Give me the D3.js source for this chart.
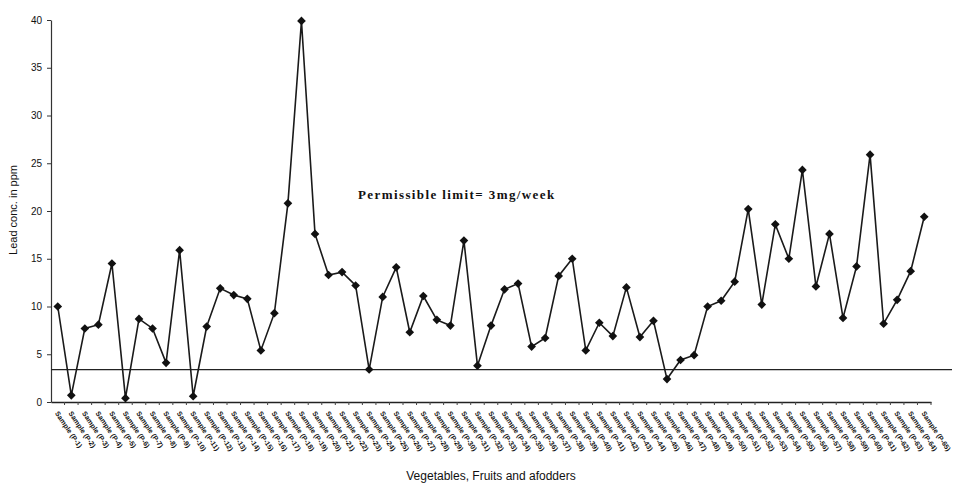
<!DOCTYPE html>
<html>
<head>
<meta charset="utf-8">
<script src="https://cdn.jsdelivr.net/npm/d3@7"></script>
<style>
  body { margin: 0; background: #fff; }
  svg { display: block; }
</style>
</head>
<body>
<div id="chart"></div>
<script>
// lead values, one per sample
var leadValues = [10.0, 0.7, 7.7, 8.1, 14.5, 0.4, 8.7, 7.7, 4.1, 15.9,
  0.6, 7.9, 11.9, 11.2, 10.8, 5.4, 9.3, 20.8, 39.9, 17.6,
  13.3, 13.6, 12.2, 3.4, 11.0, 14.1, 7.3, 11.1, 8.6, 8.0,
  16.9, 3.8, 8.0, 11.8, 12.4, 5.8, 6.7, 13.2, 15.0, 5.4,
  8.3, 6.9, 12.0, 6.8, 8.5, 2.4, 4.4, 4.9, 10.0, 10.6,
  12.6, 20.2, 10.2, 18.6, 15.0, 24.3, 12.1, 17.6, 8.8, 14.2,
  25.9, 8.2, 10.7, 13.7, 19.4];

// sample names on the scan are not legible, so use sample codes
var sampleLabels = leadValues.map(function(d, i){ return "Sample (P-" + (i + 1) + ")"; });

var yTicks = [0, 5, 10, 15, 20, 25, 30, 35, 40];
var limitValue = 3.4;

var width = 956, height = 484;

var svg = d3.select("#chart").append("svg")
  .attr("width", width)
  .attr("height", height);

var x = d3.scaleBand()
  .domain(sampleLabels)
  .range([51, 931]);

var y = d3.scaleLinear()
  .domain([0, 40])
  .range([402, 20]);

// y axis
var yAxis = svg.append("g")
  .attr("transform", "translate(51,0)")
  .call(d3.axisLeft(y).tickValues(yTicks).tickSize(4).tickSizeOuter(0));
yAxis.select(".domain").attr("stroke", "#333").attr("stroke-width", 1.2);
yAxis.selectAll(".tick line").attr("stroke", "#333");
yAxis.selectAll(".tick text")
  .attr("x", -9)
  .style("font-family", "Liberation Sans, Arial, sans-serif")
  .style("font-size", "10px")
  .style("fill", "#111");

// x axis
var xAxis = svg.append("g")
  .attr("transform", "translate(0,402)")
  .call(d3.axisBottom(x).tickSize(0).tickSizeOuter(0));
xAxis.select(".domain").attr("stroke", "#222").attr("stroke-width", 1.4);
xAxis.selectAll(".tick text")
  .attr("x", 0)
  .attr("y", 0)
  .attr("dy", "0.35em")
  .attr("text-anchor", "start")
  .attr("transform", "translate(-1,10) rotate(56)")
  .style("font-family", "Liberation Sans, Arial, sans-serif")
  .style("font-weight", "bold")
  .style("font-size", "7px")
  .style("fill", "#111");

// small ticks between categories
svg.append("g")
  .selectAll("line")
  .data(sampleLabels)
  .enter()
  .append("line")
    .attr("x1", function(d){ return x(d) + x.bandwidth(); })
    .attr("x2", function(d){ return x(d) + x.bandwidth(); })
    .attr("y1", 402)
    .attr("y2", 405)
    .attr("stroke", "#444")
    .attr("stroke-width", 1);

// permissible limit line
svg.append("line")
  .attr("x1", 51)
  .attr("x2", 952)
  .attr("y1", y(limitValue))
  .attr("y2", y(limitValue))
  .attr("stroke", "#222")
  .attr("stroke-width", 1.3);

// data line
var line = d3.line()
  .x(function(d, i){ return x(sampleLabels[i]) + x.bandwidth() / 2; })
  .y(function(d){ return y(d); });

svg.append("path")
  .datum(leadValues)
  .attr("d", line)
  .attr("fill", "none")
  .attr("stroke", "#1a1a1a")
  .attr("stroke-width", 1.6);

// diamond markers
svg.append("g")
  .selectAll("path")
  .data(leadValues)
  .enter()
  .append("path")
    .attr("d", d3.symbol().type(d3.symbolDiamond2).size(48))
    .attr("transform", function(d, i){
      return "translate(" + (x(sampleLabels[i]) + x.bandwidth() / 2) + "," + y(d) + ")";
    })
    .attr("fill", "#111");

// annotation
svg.append("text")
  .attr("x", 358)
  .attr("y", 199)
  .text("Permissible limit= 3mg/week")
  .style("font-family", "Liberation Serif, Times New Roman, serif")
  .style("font-weight", "bold")
  .style("font-size", "13px")
  .style("letter-spacing", "1.4px")
  .style("fill", "#111");

// axis titles
svg.append("text")
  .attr("transform", "translate(17,210) rotate(-90)")
  .attr("text-anchor", "middle")
  .text("Lead conc. in ppm")
  .style("font-family", "Liberation Sans, Arial, sans-serif")
  .style("font-size", "11px")
  .style("fill", "#111");

svg.append("text")
  .attr("x", 491)
  .attr("y", 480)
  .attr("text-anchor", "middle")
  .text("Vegetables, Fruits and afodders")
  .style("font-family", "Liberation Sans, Arial, sans-serif")
  .style("font-size", "12px")
  .style("fill", "#111");
</script>
</body>
</html>
